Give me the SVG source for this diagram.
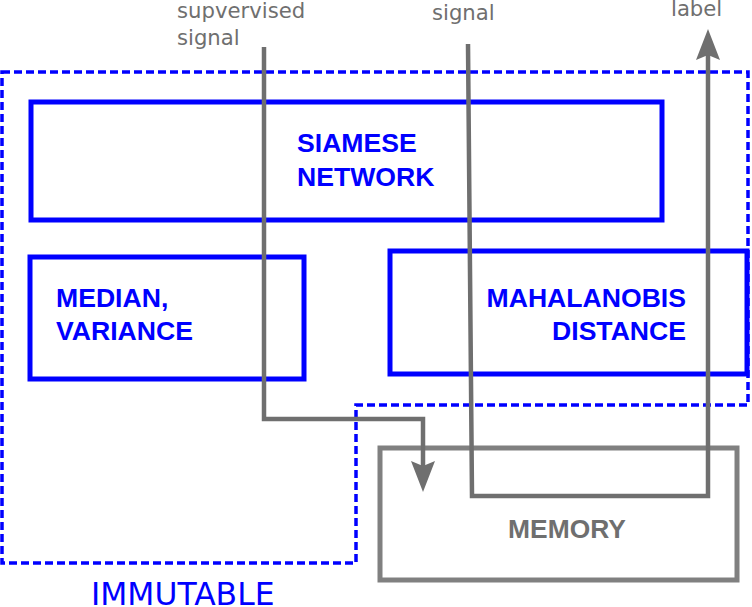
<svg xmlns="http://www.w3.org/2000/svg" width="752" height="607" viewBox="0 0 752 607">
<defs>
<style>
.box{fill:none;stroke:#0000ff;stroke-width:5}
.mem{fill:none;stroke:#808080;stroke-width:5}
.dash{fill:none;stroke:#0000ff;stroke-width:3.5;stroke-dasharray:8,4}
.conn{fill:none;stroke:#6f6f6f;stroke-width:4.5;stroke-linejoin:miter}
.lbl{font-family:"Liberation Sans",Arial,sans-serif;font-weight:bold;font-size:26.6px;fill:#0000ff}
.gl{font-family:"DejaVu Sans",sans-serif;font-size:21.2px;fill:#6f6f6f}
.imm{font-family:"DejaVu Sans",sans-serif;font-size:31.4px;fill:#0000ff}
.meml{font-family:"Liberation Sans",Arial,sans-serif;font-weight:bold;font-size:26.4px;fill:#6f6f6f}
</style>
<marker id="arr" markerUnits="userSpaceOnUse" markerWidth="34" markerHeight="26" viewBox="0 -13 32 26" refX="5" refY="0" orient="auto">
<path d="M0,-12 L31,0 L0,12 L5,0 z" fill="#6f6f6f"/>
</marker>
</defs>
<g id="immutable">
<path class="dash" d="M2,72 L748,72 L748,405 L356,405 L356,563 L2,563 Z"/>
<text class="imm" x="91" y="605">IMMUTABLE</text>
</g>
<g id="siamese">
<rect class="box" x="31" y="102" width="631" height="118"/>
<text class="lbl" x="297" y="152">SIAMESE</text>
<text class="lbl" x="297" y="186">NETWORK</text>
</g>
<g id="median">
<rect class="box" x="30" y="257" width="274" height="122"/>
<text class="lbl" x="56" y="307">MEDIAN,</text>
<text class="lbl" x="56" y="340">VARIANCE</text>
</g>
<g id="mahalanobis">
<rect class="box" x="390" y="251" width="357" height="123"/>
<text class="lbl" x="686" y="307" text-anchor="end">MAHALANOBIS</text>
<text class="lbl" x="686" y="340" text-anchor="end">DISTANCE</text>
</g>
<g id="memory">
<rect class="mem" x="380" y="448" width="357" height="132"/>
<text class="meml" x="567" y="538" text-anchor="middle">MEMORY</text>
</g>
<g id="labels">
<text class="gl" x="177" y="18">supvervised</text>
<text class="gl" x="177" y="45">signal</text>
<text class="gl" x="432" y="20">signal</text>
<text class="gl" x="671" y="16">label</text>
</g>
<g id="connectors">
<path class="conn" d="M264,47 L264,419 L423,419 L423,466" marker-end="url(#arr)"/>
<path class="conn" d="M468,44 L472,496 L708,496 L708,55" marker-end="url(#arr)"/>
</g>
</svg>
